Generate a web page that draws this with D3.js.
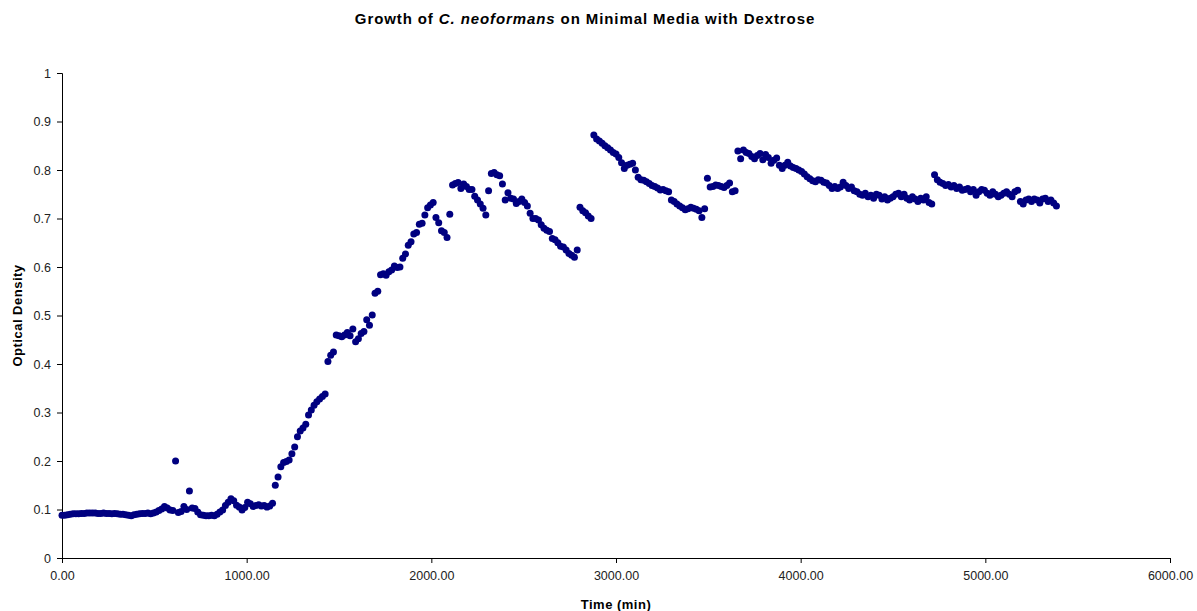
<!DOCTYPE html>
<html>
<head>
<meta charset="utf-8">
<script src="https://cdn.jsdelivr.net/npm/d3@7"></script>
<style>
  body { margin: 0; background: #fff; }
  svg { font-family: "Liberation Sans", Arial, sans-serif; }
</style>
</head>
<body>
<div id="chart"></div>
<script>
// readings are taken every 15 minutes, starting at t = 0
const sampleMinutes = 15;

// optical density, one row per 150 min
const odValues = [
  0.088, 0.088, 0.089, 0.090, 0.091, 0.091, 0.091, 0.092, 0.092, 0.093,
  0.093, 0.093, 0.093, 0.092, 0.092, 0.093, 0.092, 0.092, 0.091, 0.092,
  0.091, 0.090, 0.090, 0.089, 0.088, 0.087, 0.089, 0.090, 0.091, 0.092,
  0.092, 0.093, 0.091, 0.093, 0.095, 0.098, 0.101, 0.106, 0.103, 0.099,
  0.098, 0.200, 0.094, 0.096, 0.106, 0.100, 0.138, 0.103, 0.102, 0.095,
  0.089, 0.088, 0.087, 0.087, 0.088, 0.087, 0.090, 0.095, 0.099, 0.108,
  0.115, 0.122, 0.118, 0.109, 0.105, 0.099, 0.104, 0.115, 0.112, 0.106,
  0.108, 0.110, 0.107, 0.108, 0.105, 0.107, 0.113, 0.150, 0.167, 0.188,
  0.197, 0.199, 0.202, 0.215, 0.229, 0.250, 0.262, 0.268, 0.276, 0.295,
  0.305, 0.315, 0.322, 0.328, 0.333, 0.338, 0.405, 0.418, 0.425, 0.460,
  0.458, 0.456, 0.460, 0.465, 0.458, 0.472, 0.446, 0.452, 0.463, 0.467,
  0.491, 0.480, 0.501, 0.546, 0.550, 0.584, 0.586, 0.583, 0.590, 0.594,
  0.602, 0.599, 0.600, 0.618, 0.627, 0.645, 0.652, 0.668, 0.671, 0.688,
  0.690, 0.707, 0.722, 0.728, 0.733, 0.702, 0.691, 0.675, 0.671, 0.661,
  0.709, 0.769, 0.772, 0.774, 0.762, 0.771, 0.766, 0.760, 0.760, 0.746,
  0.738, 0.730, 0.721, 0.707, 0.757, 0.793, 0.795, 0.790, 0.788, 0.771,
  0.738, 0.753, 0.742, 0.740, 0.731, 0.735, 0.740, 0.733, 0.726, 0.711,
  0.700, 0.700, 0.697, 0.687, 0.680, 0.676, 0.673, 0.659, 0.656, 0.650,
  0.643, 0.641, 0.635, 0.628, 0.624, 0.620, 0.635, 0.723, 0.716, 0.712,
  0.705, 0.700, 0.872, 0.864, 0.860, 0.855, 0.850, 0.846, 0.841, 0.836,
  0.833, 0.826, 0.815, 0.803, 0.810, 0.812, 0.814, 0.800, 0.785, 0.780,
  0.779, 0.776, 0.772, 0.768, 0.766, 0.763, 0.759, 0.760, 0.757, 0.755,
  0.738, 0.735, 0.730, 0.726, 0.722, 0.718, 0.720, 0.723, 0.721, 0.719,
  0.716, 0.702, 0.720, 0.783, 0.765, 0.766, 0.769, 0.768, 0.766, 0.764,
  0.768, 0.773, 0.755, 0.757, 0.839, 0.823, 0.841, 0.836, 0.834, 0.828,
  0.823, 0.830, 0.834, 0.821, 0.832, 0.826, 0.814, 0.820, 0.825, 0.810,
  0.803, 0.810, 0.816, 0.808, 0.805, 0.803, 0.800, 0.797, 0.792, 0.786,
  0.782, 0.778, 0.776, 0.780, 0.779, 0.775, 0.773, 0.768, 0.762, 0.766,
  0.762, 0.765, 0.775, 0.768, 0.762, 0.765, 0.757, 0.755, 0.750, 0.748,
  0.752, 0.745, 0.748, 0.742, 0.750, 0.748, 0.740, 0.745, 0.738, 0.742,
  0.745, 0.750, 0.752, 0.745, 0.750, 0.742, 0.738, 0.745, 0.740, 0.735,
  0.742, 0.738, 0.745, 0.733, 0.730, 0.790, 0.780, 0.775, 0.772, 0.768,
  0.770, 0.765, 0.768, 0.762, 0.765, 0.758, 0.760, 0.762, 0.755, 0.760,
  0.748, 0.755, 0.760, 0.758, 0.752, 0.748, 0.755, 0.750, 0.745, 0.748,
  0.752, 0.755, 0.750, 0.745, 0.755, 0.758, 0.735, 0.730, 0.738, 0.740,
  0.735, 0.740, 0.738, 0.732, 0.740, 0.742, 0.735, 0.738, 0.732, 0.726
];

const xTicks = [0, 1000, 2000, 3000, 4000, 5000, 6000];
const yTicks = [0, 0.1, 0.2, 0.3, 0.4, 0.5, 0.6, 0.7, 0.8, 0.9, 1];

const data = odValues.map((v, i) => ({time: i * sampleMinutes, od: v}));

const W = 1197, H = 611;
const margin = {top: 73, right: 27, bottom: 53, left: 62};
const width = W - margin.left - margin.right;
const height = H - margin.top - margin.bottom;

const svg = d3.select("#chart")
    .append("svg")
    .attr("width", W)
    .attr("height", H);

const g = svg.append("g")
    .attr("transform", `translate(${margin.left},${margin.top})`);

const x = d3.scaleLinear().domain([0, 6000]).range([0, width]);
const y = d3.scaleLinear().domain([0, 1]).range([height, 0]);

// axes
const xAxis = g.append("g")
    .attr("transform", `translate(0,${height})`)
    .call(d3.axisBottom(x).tickValues(xTicks).tickFormat(d3.format(".2f")).tickSizeOuter(0).tickSize(5));
xAxis.selectAll("text")
    .attr("dy", "1.1em")
    .style("font-size", "12.5px")
    .style("fill", "#222");

const yAxis = g.append("g")
    .call(d3.axisLeft(y).tickValues(yTicks).tickFormat(d => d3.format("")(+d.toFixed(1))).tickSizeOuter(0).tickSize(5));
yAxis.selectAll("text")
    .attr("x", -11)
    .style("font-size", "12.5px")
    .style("fill", "#222");

g.selectAll(".domain, .tick line").attr("stroke", "#000");

// points
g.selectAll(".pt")
    .data(data)
    .enter()
    .append("circle")
    .attr("class", "pt")
    .attr("cx", d => x(d.time))
    .attr("cy", d => y(d.od))
    .attr("r", 3.5)
    .attr("fill", "#000080");

// title
const title = svg.append("text")
    .attr("x", 585)
    .attr("y", 24)
    .attr("text-anchor", "middle")
    .style("font-size", "15px")
    .style("letter-spacing", "0.9px")
    .style("font-weight", "bold");
title.append("tspan").text("Growth of ");
title.append("tspan").style("font-style", "italic").text("C. neoformans");
title.append("tspan").text(" on Minimal Media with Dextrose");

// axis titles
svg.append("text")
    .attr("x", 616)
    .attr("y", 609)
    .attr("text-anchor", "middle")
    .style("font-size", "13px")
    .style("letter-spacing", "0.5px")
    .style("font-weight", "bold")
    .text("Time (min)");

svg.append("text")
    .attr("transform", `translate(22,${margin.top + height / 2}) rotate(-90)`)
    .attr("text-anchor", "middle")
    .style("font-size", "13px")
    .style("letter-spacing", "0.5px")
    .style("font-weight", "bold")
    .text("Optical Density");
</script>
</body>
</html>
